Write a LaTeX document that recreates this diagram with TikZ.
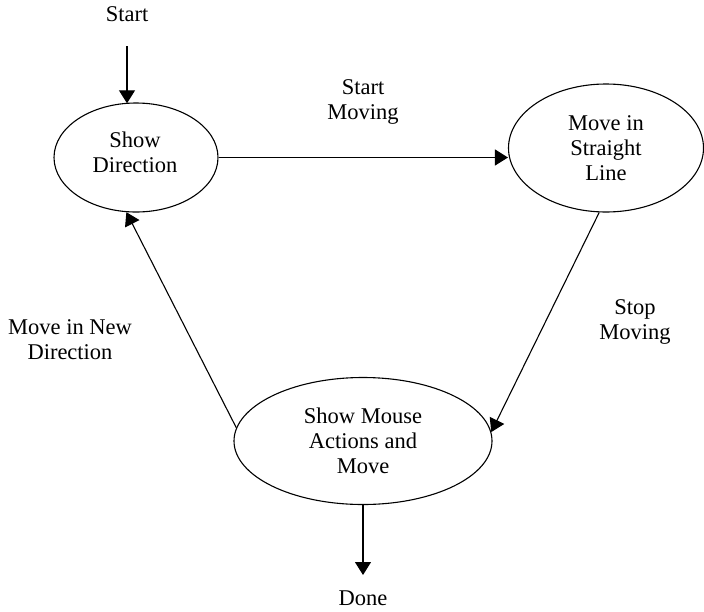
\documentclass[tikz,border=0pt]{standalone}
\usepackage{fontspec}
\setmainfont{Liberation Serif}
\usetikzlibrary{shapes.geometric,arrows.meta}
\tikzset{
  state/.style={draw, ellipse, line width=1.1pt, inner sep=0pt, align=center},
  lbl/.style={align=center, inner sep=0pt},
  conn/.style={line width=1.1pt, -{Triangle[length=13pt,width=16pt]}},
}
\begin{document}
\begin{tikzpicture}[x=1pt,y=-1pt, font=\fontsize{22.5}{25}\selectfont]
\useasboundingbox (0,0) rectangle (704,611);
\node[state, minimum width=164pt, minimum height=109pt] (SD) at (136,157.5) {};
\node[lbl] (SDtxt) at (135,152) {Show\\Direction};
\node[state, minimum width=195pt, minimum height=128pt] (MSL) at (606,148) {Move in\\Straight\\Line};
\node[state, minimum width=258pt, minimum height=127pt] (SMA) at (363,441) {Show Mouse\\Actions and\\Move};
\node[lbl] (start) at (127,14) {Start};
\node[lbl] (done) at (363,598) {Done};
\node[lbl] (sm) at (363,102) {Start\\Moving};
\node[lbl] (stm) at (635,322) {Stop\\Moving};
\node[lbl] (mnd) at (70,340) {Move in New\\Direction};
\coordinate (s1) at (127,46);
\coordinate (s2) at (127,103.3);
\coordinate (d1) at (363,575);
\draw[conn] (s1) -- (s2);
\draw[conn] (SD.east) -- (SD.east -| MSL.west);
\draw[conn] (MSL.264.6) -- (SMA.4.5);
\draw[conn] (SMA.174.6) -- (SD.260.6);
\draw[conn] (SMA.south) -- (d1);
\end{tikzpicture}
\end{document}
